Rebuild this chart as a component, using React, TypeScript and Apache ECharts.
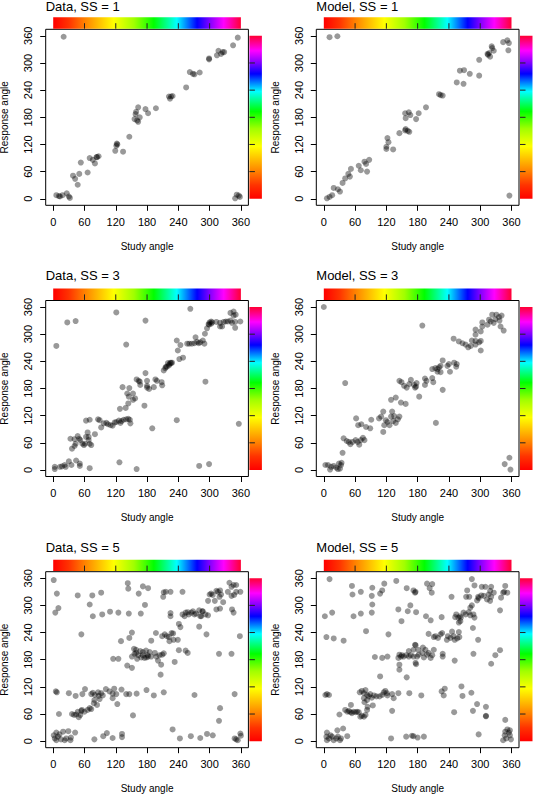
import React, { useEffect, useRef } from "react";
import * as echarts from "echarts";

const tickValues = [0, 60, 120, 180, 240, 300, 360];
const barTickValues = [60, 120, 180, 240, 300];
const panelTitles = ["Data, SS = 1", "Model, SS = 1", "Data, SS = 3", "Model, SS = 3", "Data, SS = 5", "Model, SS = 5"];
const xAxisTitle = "Study angle";
const yAxisTitle = "Response angle";
const hueStops: [number, string][] = [
  [0, "#ff0000"], [30, "#ff3300"], [60, "#ff8000"], [116, "#ffff00"], [155, "#a0ff00"],
  [193, "#00ff00"], [237, "#00ffff"], [276, "#0000ff"], [300, "#8000ff"], [327, "#ff00ff"], [360, "#ff0033"],
];

const dataSS1 = [
  [20,358],[354,356],[345,339],[317,327],[325,324],[314,317],[322,320],[328,324],[299,310],[299,308],
  [262,280],[268,276],[271,275],[281,279],[255,246],[222,226],[224,221],[226,226],[229,227],[197,200],
  [177,198],[182,189],[163,202],[159,192],[158,187],[156,176],[161,173],[166,180],[163,170],[146,137],
  [122,122],[123,120],[121,117],[119,106],[134,104],[70,90],[76,86],[80,78],[84,92],[87,94],[83,92],
  [66,58],[53,80],[38,51],[42,44],[50,55],[47,31],[6,8],[11,6],[13,5],[18,8],[26,12],[30,5],[32,2],
  [349,1],[352,9],[356,7],[358,4],
];

const modelSS1 = [
  [11,357],[26,359],[344,346],[352,350],[355,344],[354,328],[322,337],[323,333],[326,327],[317,322],
  [319,314],[315,318],[314,320],[298,307],[298,272],[280,276],[269,284],[261,283],[268,254],[255,257],
  [221,231],[224,229],[228,228],[196,202],[156,189],[163,191],[166,185],[157,178],[177,176],[182,189],
  [157,154],[161,150],[156,151],[164,148],[145,145],[122,134],[124,125],[120,115],[120,110],[133,109],
  [67,73],[71,63],[78,82],[81,77],[83,60],[87,86],[52,66],[47,55],[50,49],[41,45],[36,35],[19,24],
  [27,21],[31,16],[16,8],[11,4],[6,1],[356,7],
];

const dataSS3 = [
  [6,274],[27,326],[43,329],[121,348],[140,277],[177,330],[263,356],
  [237,286],[244,276],[239,264],[242,245],[249,248],
  [257,279],[261,279],[266,279],[271,280],[276,283],[273,293],[279,280],[282,282],[290,279],[287,286],[291,301],
  [295,313],[298,322],[300,326],[303,328],[305,326],[299,321],[303,323],[320,325],[324,317],[327,327],[331,328],
  [335,328],[340,330],[343,325],[340,347],[346,341],[350,343],[346,350],[349,327],[359,328],[349,314],[320,317],[313,327],
  [292,195],[280,9],[299,13],[237,110],[356,102],[190,92],[127,17],[160,2],
  [70,4],[51,9],[51,14],[44,21],[30,19],[35,11],[22,11],[17,8],[13,7],[3,7],[3,2],[24,7],
  [33,69],[41,68],[43,58],[36,47],[41,53],[47,75],[50,69],[52,66],[56,58],[61,58],[63,73],[66,83],[68,73],[68,66],
  [70,58],[73,55],[80,79],[59,55],
  [63,109],[70,111],[86,112],[89,110],[92,94],
  [97,103],[102,104],[105,101],[110,99],[114,98],[118,105],[121,106],[126,109],[129,104],[131,108],[135,111],
  [140,112],[144,113],[147,111],[148,103],
  [139,137],[144,147],[145,162],[153,169],[153,155],[157,158],[146,181],[142,169],[133,183],[128,135],[175,142],
  [160,200],[164,197],[167,188],[166,195],[177,214],[180,197],[180,186],[184,179],[193,183],[196,200],[199,197],
  [208,194],[209,187],[180,182],
  [212,220],[215,225],[218,228],[222,231],[223,234],[226,236],[228,237],[216,228],[220,236],[225,237],
];

const modelSS3 = [
  [0,360],[189,319],[41,192],[215,104],[356,27],[347,13],[358,1],
  [3,11],[8,11],[14,7],[19,9],[24,5],[29,14],[33,11],[34,16],[12,1],[27,2],[31,3],
  [36,38],
  [38,70],[44,64],[48,62],[51,57],[55,62],[61,66],[65,62],[68,56],[71,66],[75,71],[78,66],[66,99],[72,101],[62,114],
  [81,95],[89,92],[91,111],[106,114],[110,118],[114,129],[119,110],[122,106],[126,99],[116,99],[114,84],[129,118],
  [133,108],[138,104],[142,112],[145,118],[135,119],[131,129],[129,155],[138,160],[148,149],[157,146],
  [145,197],[149,194],[154,186],[159,182],[164,190],[167,199],[173,188],[175,182],[178,192],[177,184],
  [183,162],[194,202],[197,197],[194,188],[208,203],[210,194],[228,177],
  [208,223],[214,225],[218,223],[221,227],[224,230],[228,242],[218,217],[224,216],[242,217],
  [237,230],[240,234],[250,237],[255,234],[254,228],
  [249,290],
  [259,284],[266,280],[272,277],[277,271],[282,274],[291,277],[298,282],[301,285],[301,264],[291,285],[284,286],
  [291,310],[291,299],[301,306],[304,326],[304,317],[314,321],[317,332],[320,328],[323,343],[326,325],[329,333],
  [336,338],[341,341],[339,317],[345,308],[331,343],[337,330],
];

const dataSS5 = [
  [1,356],[7,326],[10,294],[4,284],[47,322],[70,302],[75,322],[92,328],[76,276],[94,280],[109,286],[125,284],
  [143,349],[144,337],[145,282],[164,326],[168,282],[172,342],[176,301],
  [54,236],[151,240],[146,228],[130,221],[151,162],[142,167],[115,182],[125,182],
  [151,187],[156,193],[159,202],[163,190],[161,182],[169,185],[172,190],[175,184],[178,200],[181,190],[155,204],
  [159,195],[167,199],[172,197],
  [5,110],[7,108],
  [30,106],[43,100],[56,104],[61,115],[73,104],[76,107],[80,102],[86,108],[87,100],[92,106],[95,101],[101,115],
  [108,110],[114,105],[117,116],[121,104],[114,95],[123,82],[131,114],[140,104],[146,104],[160,105],
  [79,91],[78,84],[84,80],[89,93],[73,71],[70,73],[66,69],[60,65],[54,67],[47,65],[44,59],[40,58],[49,53],[52,58],
  [36,60],[55,69],
  [11,60],[153,57],
  [1,13],[3,6],[6,2],[9,10],[12,15],[15,4],[19,21],[22,2],[25,6],[29,22],[33,2],[34,8],[42,19],[6,19],
  [79,4],[96,11],[103,18],[114,7],[132,16],[132,9],
  [182,338],[212,329],[211,319],[216,330],[225,330],[248,330],
  [225,283],[225,276],
  [254,284],[260,280],[265,284],[271,280],[280,289],[282,276],[287,287],[292,280],[297,278],[248,280],[252,276],
  [258,285],[268,287],[274,282],[284,276],[286,287],
  [241,259],[244,252],[280,253],[294,236],
  [297,310],[300,324],[303,326],[306,323],[310,310],[313,332],[316,330],[320,333],[322,324],[319,319],[313,291],
  [320,293],[326,307],[335,330],[342,321],[343,291],[346,284],[338,350],[342,341],[346,345],[351,345],[351,330],
  [359,330],[347,323],
  [358,232],[342,193],[318,193],
  [188,222],[197,239],[209,232],[214,236],[218,232],[222,230],[227,239],[230,238],[231,224],[239,224],[223,221],
  [241,201],[254,200],[258,195],[185,197],[182,187],[188,187],[195,195],[198,187],[201,178],[204,190],[209,191],
  [207,169],[212,194],[179,185],
  [206,147],[233,175],
  [179,113],[193,101],[212,108],[271,102],[348,104],
  [320,73],[318,45],
  [229,26],[243,6],[264,11],[282,7],[295,16],[306,13],[348,6],[354,2],[359,17],[360,12],[351,4],
];

const modelSS5 = [
  [11,358],[54,343],[55,324],[71,330],[93,339],[92,321],[93,302],[108,326],[116,348],[112,333],[139,354],[159,338],
  [172,333],[175,328],[143,291],[161,287],[166,300],[149,265],
  [2,276],[16,284],[57,276],[71,282],[92,284],
  [81,243],[124,236],
  [5,230],[19,227],[38,222],
  [98,186],[112,184],[122,187],[143,184],[145,191],[148,187],[150,190],[153,187],[158,190],[163,187],[167,190],
  [172,187],[175,213],[172,202],[163,199],[145,169],[145,158],[159,141],[108,143],[177,170],
  [3,102],[6,104],[10,102],
  [69,108],[73,111],[77,106],[80,113],[83,102],[86,99],[89,104],[92,96],[96,101],[101,99],[107,99],[112,102],
  [115,108],[118,111],[121,106],[122,101],[131,104],[134,95],[143,106],[77,95],[78,86],[84,76],[94,79],[131,67],
  [164,106],[83,91],
  [52,80],
  [41,69],[45,65],[48,67],[51,64],[54,62],[57,65],[61,64],[64,65],[67,64],[70,54],[73,56],[77,54],[80,58],[83,69],
  [30,59],
  [26,24],[37,28],[45,11],
  [6,19],[5,10],[6,2],[10,6],[16,10],[19,2],[24,6],[27,10],[31,2],[33,6],[13,13],
  [129,6],[158,10],[169,12],[172,11],
  [198,348],[203,338],[208,347],[207,328],[176,330],
  [245,319],
  [275,333],[284,358],[289,344],[273,319],[279,319],[281,295],[284,300],[294,311],[296,319],[297,316],[302,322],
  [303,341],[310,341],[313,313],[316,324],[319,332],[321,341],[321,319],[326,328],[307,321],[319,310],[344,328],
  [348,343],[346,330],[352,328],[340,317],[338,289],
  [177,285],[196,276],[205,267],[226,274],
  [254,280],[258,273],[261,276],[263,273],[262,265],[259,262],[268,284],[272,280],[278,285],[281,278],[287,280],
  [289,273],[286,250],[296,224],[252,274],
  [201,237],[211,230],[214,232],[219,228],[224,236],[227,239],[236,224],[238,232],[243,228],[246,242],[249,232],
  [251,224],[256,227],[259,241],[260,230],
  [176,212],[181,202],[190,207],[195,202],[201,195],[211,202],[208,190],[205,184],[182,191],[192,185],[179,187],
  [176,173],[189,195],[198,191],[228,193],[228,187],[251,178],[287,193],[321,171],[329,190],[338,201],
  [187,101],[226,110],[232,116],[230,101],[264,121],[266,100],[283,107],[250,64],[294,82],[311,76],[311,56],[311,55],[286,67],
  [348,47],[348,21],[352,26],[355,19],[357,13],[359,4],[350,6],[344,2],[347,13],[357,24],
  [297,15],[180,8],[192,10],
];

const panelData = [dataSS1, modelSS1, dataSS3, modelSS3, dataSS5, modelSS5];

const W = 533;
const H = 795;
const colLeft = [45.7, 316.3];
const rowTop = [29.3, 300.5, 571.7];
const boxW = 202.7;
const boxH = 176;
const axisMin = -14.4;
const axisMax = 374.4;
const FONT = "'Liberation Sans', Arial, Helvetica, sans-serif";

function gradientStops() {
  return hueStops.map(([v, c]) => ({ offset: v / 360, color: c }));
}

export default function App() {
  const ref = useRef<HTMLDivElement>(null);

  useEffect(() => {
    if (!ref.current) return;
    const chart = echarts.init(ref.current, null, { renderer: "svg" });

    const grids: any[] = [];
    const xAxes: any[] = [];
    const yAxes: any[] = [];
    const series: any[] = [];

    panelData.forEach((pts, i) => {
      const r = Math.floor(i / 2);
      const c = i % 2;
      grids.push({
        left: colLeft[c],
        top: rowTop[r],
        width: boxW,
        height: boxH,
        show: true,
        borderColor: "#000",
        borderWidth: 1,
        backgroundColor: "transparent",
        containLabel: false,
        outerBoundsMode: "none",
      });
      const common = {
        gridIndex: i,
        type: "value",
        min: axisMin,
        max: axisMax,
        nameLocation: "middle",
        nameTextStyle: { fontSize: 10, color: "#000", fontFamily: FONT },
        axisLine: { show: false, onZero: false },
        axisTick: { show: true, inside: false, length: 5.5, customValues: tickValues, lineStyle: { color: "#000", width: 1 } },
        splitLine: { show: false },
      };
      xAxes.push({
        ...common,
        name: xAxisTitle,
        nameGap: 36,
        axisLabel: { customValues: tickValues, fontSize: 11, color: "#000", fontFamily: FONT, margin: 11 },
      });
      yAxes.push({
        ...common,
        name: yAxisTitle,
        nameGap: 35.8,
        axisLabel: { customValues: tickValues, fontSize: 11, color: "#000", fontFamily: FONT, margin: 12, rotate: 90 },
      });
      series.push({
        type: "scatter",
        xAxisIndex: i,
        yAxisIndex: i,
        data: pts,
        symbol: "circle",
        symbolSize: 6,
        itemStyle: { color: "rgba(0,0,0,0.5)", borderWidth: 0 },
        emphasis: { disabled: true },
        silent: true,
      });
    });

    chart.setOption({
      animation: false,
      textStyle: { fontFamily: FONT },
      grid: grids,
      xAxis: xAxes,
      yAxis: yAxes,
      series,
    });

    const graphics: any[] = [];
    panelData.forEach((_, i) => {
      const p0 = chart.convertToPixel({ gridIndex: i }, [0, 0]) as number[];
      const p1 = chart.convertToPixel({ gridIndex: i }, [360, 360]) as number[];
      const pMax = chart.convertToPixel({ gridIndex: i }, [axisMax, axisMax]) as number[];
      const pMin = chart.convertToPixel({ gridIndex: i }, [axisMin, axisMin]) as number[];
      const boxTop = pMax[1];
      const boxRight = pMax[0];
      const boxLeft = pMin[0];

      graphics.push({
        type: "text",
        style: {
          text: panelTitles[i],
          x: boxLeft,
          y: Math.max(boxTop - 24.7, 6.7),
          fontSize: 13,
          fontFamily: FONT,
          fill: "#000",
          align: "left",
          verticalAlign: "middle",
        },
        silent: true,
      });

      const barH = 11.4;
      const barBottom = boxTop - 0.6;
      graphics.push({
        type: "rect",
        shape: { x: p0[0], y: barBottom - barH, width: p1[0] - p0[0], height: barH },
        style: { fill: new echarts.graphic.LinearGradient(0, 0, 1, 0, gradientStops()) },
        silent: true,
      });
      const barLeft = boxRight + 1;
      const barW = 12.5;
      graphics.push({
        type: "rect",
        shape: { x: barLeft, y: p1[1], width: barW, height: p0[1] - p1[1] },
        style: { fill: new echarts.graphic.LinearGradient(0, 1, 0, 0, gradientStops()) },
        silent: true,
      });
      barTickValues.forEach((v) => {
        const q = chart.convertToPixel({ gridIndex: i }, [v, v]) as number[];
        graphics.push({
          type: "line",
          shape: { x1: q[0], y1: barBottom, x2: q[0], y2: barBottom - 5.5 },
          style: { stroke: "#222", lineWidth: 1 },
          silent: true,
        });
        graphics.push({
          type: "line",
          shape: { x1: barLeft, y1: q[1], x2: barLeft + 5.5, y2: q[1] },
          style: { stroke: "#222", lineWidth: 1 },
          silent: true,
        });
      });
    });

    chart.setOption({ graphic: graphics });

    return () => {
      chart.dispose();
    };
  }, []);

  return (
    <div
      ref={ref}
      style={{ position: "absolute", left: 0, top: 0, width: W, height: H, background: "#fff" }}
    />
  );
}
